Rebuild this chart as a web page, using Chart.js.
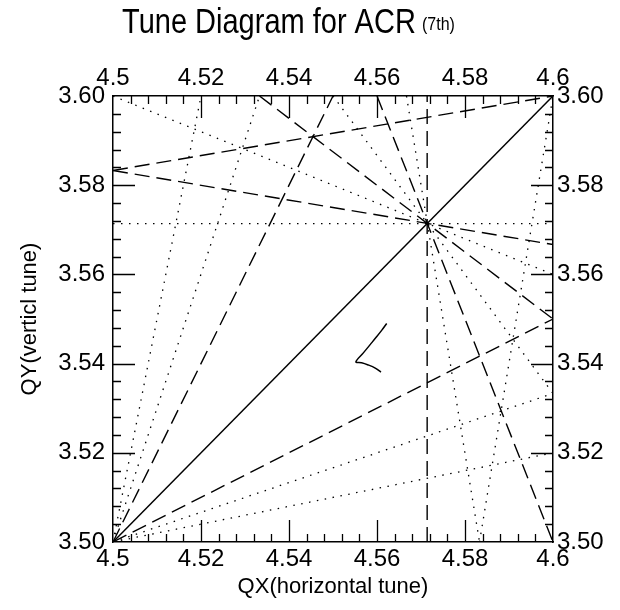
<!DOCTYPE html>
<html>
<head>
<meta charset="utf-8">
<script src="https://cdn.jsdelivr.net/npm/chart.js@4/dist/chart.umd.min.js"></script>
<style>
  html, body { margin: 0; padding: 0; background: #fff; }
  #wrap { width: 620px; height: 610px; position: relative; }
</style>
</head>
<body>
<div id="wrap"><canvas id="c" width="620" height="610"></canvas></div>
<script>
// ---------- data ----------
const chartTitle = 'Tune Diagram for ACR';
const chartTitleNote = '(7th)';
const xAxisTitle = 'QX(horizontal tune)';
const yAxisTitle = 'QY(verticl tune)';

const qxTickValues = [4.5, 4.52, 4.54, 4.56, 4.58, 4.6];
const qxTickLabels = ['4.5', '4.52', '4.54', '4.56', '4.58', '4.6'];
const qyTickValues = [3.5, 3.52, 3.54, 3.56, 3.58, 3.6];
const qyTickLabels = ['3.50', '3.52', '3.54', '3.56', '3.58', '3.60'];

// coupling resonance (solid)
const solidNames = ['Qx-Qy=1'];
const solidQx = [[4.5, 4.6]];
const solidQy = [[3.5, 3.6]];

// resonance lines drawn dashed
const dashedNames = ['7Qx=32', '5Qx+2Qy=30', '3Qx+4Qy=28', 'Qx+6Qy=26', 'Qx-6Qy=-17', '4Qx-2Qy=11', '2Qx-4Qy=-5'];
const dashedQx = [[4.5714, 4.5714], [4.56, 4.6], [4.5333, 4.6], [4.5, 4.6], [4.5, 4.6], [4.5, 4.55], [4.5, 4.6]];
const dashedQy = [[3.5, 3.6], [3.6, 3.5], [3.6, 3.55], [3.5833, 3.5667], [3.5833, 3.6], [3.5, 3.6], [3.5, 3.55]];

// resonance lines drawn dotted
const dottedNames = ['7Qy=25', '6Qx+Qy=31', '6Qx-Qy=24', '4Qx+3Qy=29', '2Qx+5Qy=27', '3Qx-Qy=10', 'Qx-3Qy=-6', '5Qx-Qy=19', 'Qx-5Qy=-13'];
const dottedQx = [[4.5, 4.6], [4.5667, 4.5833], [4.5833, 4.6], [4.55, 4.6], [4.5, 4.6], [4.5, 4.5333], [4.5, 4.6], [4.5, 4.52], [4.5, 4.6]];
const dottedQy = [[3.5714, 3.5714], [3.6, 3.5], [3.5, 3.6], [3.6, 3.5333], [3.6, 3.56], [3.5, 3.6], [3.5, 3.5333], [3.5, 3.6], [3.5, 3.52]];

// tune path (small curve)
const tuneQx = [4.5622, 4.5611, 4.5599, 4.5584, 4.5569, 4.5552, 4.5565, 4.5580, 4.5596, 4.5609];
const tuneQy = [3.5490, 3.5475, 3.5460, 3.5442, 3.5424, 3.5404, 3.5402, 3.5397, 3.5390, 3.5381];

// ---------- styling ----------
const FONT = "'Liberation Sans', Arial, Helvetica, sans-serif";
const STYLE = {
  solid:  { borderDash: [], borderWidth: 1.5 },
  dashed: { borderDash: [15, 7], borderWidth: 1.4 },
  dotted: { borderDash: [1.5, 6.5], borderWidth: 1.3 }
};

function makeSets(names, qx, qy, kind) {
  return names.map((n, i) => ({
    label: n,
    data: qx[i].map((x, j) => ({ x: x, y: qy[i][j] })),
    showLine: true,
    pointRadius: 0,
    borderColor: '#000',
    backgroundColor: '#000',
    borderWidth: STYLE[kind].borderWidth,
    borderDash: STYLE[kind].borderDash,
    borderCapStyle: 'butt',
    fill: false,
    tension: 0
  }));
}

const datasets = []
  .concat(makeSets(solidNames, solidQx, solidQy, 'solid'))
  .concat(makeSets(dashedNames, dashedQx, dashedQy, 'dashed'))
  .concat(makeSets(dottedNames, dottedQx, dottedQy, 'dotted'));
datasets.push({
  label: 'tune',
  data: tuneQx.map((x, i) => ({ x: x, y: tuneQy[i] })),
  showLine: true, pointRadius: 0, borderColor: '#000', borderWidth: 1.5,
  fill: false, tension: 0.35, cubicInterpolationMode: 'default'
});

Chart.defaults.color = '#000';
Chart.defaults.font.family = FONT;

function fixedTicks(values) {
  return function (scale) { scale.ticks = values.map(v => ({ value: v })); };
}
function labelFrom(values, labels) {
  return function (value) {
    const i = values.findIndex(v => Math.abs(v - value) < 1e-9);
    return i >= 0 ? labels[i] : '';
  };
}

// inward tick marks drawn along the four frame sides using the scales
const tickMarks = {
  id: 'tickMarks',
  afterDatasetsDraw(chart) {
    const ctx = chart.ctx, a = chart.chartArea;
    const sx = chart.scales.x, sy = chart.scales.y;
    ctx.save();
    ctx.strokeStyle = '#000';
    ctx.lineWidth = 1.3;
    const nMinor = 5, MAJ = 22, MIN = 8;
    for (let k = 1; k < (qxTickValues.length - 1) * nMinor; k++) {
      const i = Math.floor(k / nMinor), r = k % nMinor;
      const v = qxTickValues[i] + (qxTickValues[i + 1] - qxTickValues[i]) * r / nMinor;
      const px = Math.round(sx.getPixelForValue(v)) + 0.5;
      const L = r === 0 ? MAJ : MIN;
      ctx.beginPath();
      ctx.moveTo(px, a.bottom); ctx.lineTo(px, a.bottom - L);
      ctx.moveTo(px, a.top); ctx.lineTo(px, a.top + L);
      ctx.stroke();
    }
    for (let k = 1; k < (qyTickValues.length - 1) * nMinor; k++) {
      const i = Math.floor(k / nMinor), r = k % nMinor;
      const v = qyTickValues[i] + (qyTickValues[i + 1] - qyTickValues[i]) * r / nMinor;
      const py = Math.round(sy.getPixelForValue(v)) + 0.5;
      const L = r === 0 ? MAJ : MIN;
      ctx.beginPath();
      ctx.moveTo(a.left, py); ctx.lineTo(a.left + L, py);
      ctx.moveTo(a.right, py); ctx.lineTo(a.right - L, py);
      ctx.stroke();
    }
    ctx.restore();
  }
};

// title drawn as canvas text
const titlePlugin = {
  id: 'titleText',
  afterDraw(chart) {
    const ctx = chart.ctx;
    ctx.save();
    ctx.fillStyle = '#000';
    ctx.textBaseline = 'alphabetic';
    ctx.textAlign = 'left';
    ctx.translate(122, 33);
    ctx.scale(1, 1.2);
    ctx.font = '29px ' + FONT;
    ctx.fillText(chartTitle, 0, 0);
    ctx.restore();
    ctx.save();
    ctx.fillStyle = '#000';
    ctx.textAlign = 'left';
    ctx.font = '16px ' + FONT;
    ctx.translate(422, 30);
    ctx.scale(1, 1.1);
    ctx.fillText(chartTitleNote, 0, 0);
    ctx.restore();
  }
};

const borderOpt = { display: true, color: '#000', width: 1.5 };
const tickFont = { size: 24, family: FONT };

new Chart(document.getElementById('c'), {
  type: 'scatter',
  data: { datasets: datasets },
  options: {
    responsive: false,
    animation: false,
    layout: { padding: 0 },
    plugins: { legend: { display: false }, tooltip: { enabled: false }, title: { display: false } },
    scales: {
      x: {
        type: 'linear', position: 'bottom', min: 4.5, max: 4.6,
        afterBuildTicks: fixedTicks(qxTickValues),
        afterFit: s => { s.height = 68; },
        grid: { display: false, drawTicks: false },
        border: borderOpt,
        ticks: { font: tickFont, padding: 3, maxRotation: 0, autoSkip: false, callback: labelFrom(qxTickValues, qxTickLabels) },
        title: { display: true, text: xAxisTitle, font: { size: 22, family: FONT }, padding: { top: 0, bottom: 10 } }
      },
      x2: {
        type: 'linear', position: 'top', min: 4.5, max: 4.6,
        afterBuildTicks: fixedTicks(qxTickValues),
        afterFit: s => { s.height = 96; },
        grid: { display: false, drawTicks: false },
        border: borderOpt,
        ticks: { font: tickFont, padding: 3, maxRotation: 0, autoSkip: false, callback: labelFrom(qxTickValues, qxTickLabels) }
      },
      y: {
        type: 'linear', position: 'left', min: 3.5, max: 3.6,
        afterBuildTicks: fixedTicks(qyTickValues),
        afterFit: s => { s.width = 113; },
        grid: { display: false, drawTicks: false },
        border: borderOpt,
        ticks: { font: tickFont, padding: 8, autoSkip: false, callback: labelFrom(qyTickValues, qyTickLabels) },
        title: { display: true, text: yAxisTitle, font: { size: 22, family: FONT }, padding: { top: 17, bottom: 0 } }
      },
      y2: {
        type: 'linear', position: 'right', min: 3.5, max: 3.6,
        afterBuildTicks: fixedTicks(qyTickValues),
        afterFit: s => { s.width = 67; },
        grid: { display: false, drawTicks: false },
        border: borderOpt,
        ticks: { font: tickFont, padding: 4, autoSkip: false, callback: labelFrom(qyTickValues, qyTickLabels) }
      }
    }
  },
  plugins: [tickMarks, titlePlugin]
});
</script>
</body>
</html>
